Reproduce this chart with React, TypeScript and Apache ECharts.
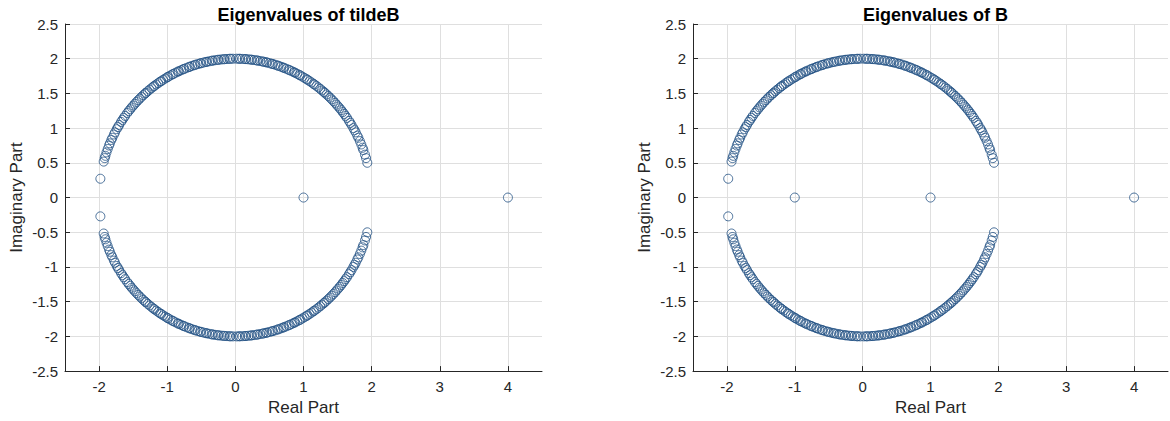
import React, { useEffect, useRef } from "react";
import * as echarts from "echarts";

// Eigenvalues (real part, imaginary part)
const upperArc: [number, number][] = [
  [1.936, 0.501], [1.918, 0.568], [1.902, 0.618], [1.879, 0.684], [1.867, 0.717], [1.848, 0.765],
  [1.827, 0.813], [1.805, 0.861], [1.79, 0.892], [1.766, 0.939], [1.749, 0.97], [1.732, 1.0],
  [1.705, 1.045], [1.687, 1.075], [1.668, 1.104], [1.638, 1.147], [1.618, 1.176], [1.597, 1.204],
  [1.576, 1.231], [1.554, 1.259], [1.532, 1.286], [1.509, 1.312], [1.486, 1.338], [1.463, 1.364],
  [1.439, 1.389], [1.414, 1.414], [1.389, 1.439], [1.364, 1.463], [1.338, 1.486], [1.312, 1.509],
  [1.299, 1.521], [1.272, 1.543], [1.245, 1.565], [1.218, 1.587], [1.19, 1.608], [1.161, 1.628],
  [1.147, 1.638], [1.118, 1.658], [1.089, 1.677], [1.06, 1.696], [1.045, 1.705], [1.015, 1.723],
  [0.985, 1.741], [0.954, 1.758], [0.939, 1.766], [0.908, 1.782], [0.877, 1.798], [0.861, 1.805],
  [0.829, 1.82], [0.797, 1.834], [0.781, 1.841], [0.749, 1.854], [0.717, 1.867], [0.7, 1.873],
  [0.668, 1.885], [0.635, 1.897], [0.618, 1.902], [0.585, 1.913], [0.551, 1.923], [0.534, 1.927],
  [0.501, 1.936], [0.467, 1.945], [0.45, 1.949], [0.416, 1.956], [0.399, 1.96], [0.365, 1.966],
  [0.33, 1.973], [0.313, 1.975], [0.278, 1.981], [0.244, 1.985], [0.226, 1.987], [0.192, 1.991],
  [0.157, 1.994], [0.14, 1.995], [0.105, 1.997], [0.07, 1.999], [0.052, 1.999], [0.017, 2.0],
  [-0.035, 2.0], [-0.07, 1.999], [-0.087, 1.998], [-0.122, 1.996], [-0.157, 1.994], [-0.174, 1.992],
  [-0.209, 1.989], [-0.244, 1.985], [-0.261, 1.983], [-0.296, 1.978], [-0.33, 1.973], [-0.347, 1.97],
  [-0.382, 1.963], [-0.416, 1.956], [-0.433, 1.953], [-0.467, 1.945], [-0.501, 1.936], [-0.518, 1.932],
  [-0.551, 1.923], [-0.585, 1.913], [-0.601, 1.907], [-0.635, 1.897], [-0.668, 1.885], [-0.684, 1.879],
  [-0.717, 1.867], [-0.749, 1.854], [-0.765, 1.848], [-0.797, 1.834], [-0.829, 1.82], [-0.845, 1.813],
  [-0.877, 1.798], [-0.908, 1.782], [-0.924, 1.774], [-0.954, 1.758], [-0.985, 1.741], [-1.0, 1.732],
  [-1.03, 1.714], [-1.06, 1.696], [-1.089, 1.677], [-1.104, 1.668], [-1.133, 1.648], [-1.161, 1.628],
  [-1.19, 1.608], [-1.204, 1.597], [-1.231, 1.576], [-1.259, 1.554], [-1.286, 1.532], [-1.312, 1.509],
  [-1.325, 1.498], [-1.351, 1.475], [-1.377, 1.451], [-1.402, 1.426], [-1.426, 1.402], [-1.451, 1.377],
  [-1.475, 1.351], [-1.498, 1.325], [-1.521, 1.299], [-1.543, 1.272], [-1.565, 1.245], [-1.587, 1.218],
  [-1.618, 1.176], [-1.638, 1.147], [-1.658, 1.118], [-1.677, 1.089], [-1.705, 1.045], [-1.723, 1.015],
  [-1.741, 0.985], [-1.766, 0.939], [-1.782, 0.908], [-1.805, 0.861], [-1.82, 0.829], [-1.841, 0.781],
  [-1.854, 0.749], [-1.873, 0.7], [-1.891, 0.651], [-1.907, 0.601], [-1.918, 0.568], [-1.932, 0.518],
  [-1.981, 0.271],
];

const lowerArc: [number, number][] = [
  [1.936, -0.501], [1.918, -0.568], [1.902, -0.618], [1.879, -0.684], [1.867, -0.717], [1.848, -0.765],
  [1.827, -0.813], [1.805, -0.861], [1.79, -0.892], [1.766, -0.939], [1.749, -0.97], [1.732, -1.0],
  [1.705, -1.045], [1.687, -1.075], [1.668, -1.104], [1.638, -1.147], [1.618, -1.176], [1.597, -1.204],
  [1.576, -1.231], [1.554, -1.259], [1.532, -1.286], [1.509, -1.312], [1.486, -1.338], [1.463, -1.364],
  [1.439, -1.389], [1.414, -1.414], [1.389, -1.439], [1.364, -1.463], [1.338, -1.486], [1.312, -1.509],
  [1.299, -1.521], [1.272, -1.543], [1.245, -1.565], [1.218, -1.587], [1.19, -1.608], [1.161, -1.628],
  [1.147, -1.638], [1.118, -1.658], [1.089, -1.677], [1.06, -1.696], [1.045, -1.705], [1.015, -1.723],
  [0.985, -1.741], [0.954, -1.758], [0.939, -1.766], [0.908, -1.782], [0.877, -1.798], [0.861, -1.805],
  [0.829, -1.82], [0.797, -1.834], [0.781, -1.841], [0.749, -1.854], [0.717, -1.867], [0.7, -1.873],
  [0.668, -1.885], [0.635, -1.897], [0.618, -1.902], [0.585, -1.913], [0.551, -1.923], [0.534, -1.927],
  [0.501, -1.936], [0.467, -1.945], [0.45, -1.949], [0.416, -1.956], [0.399, -1.96], [0.365, -1.966],
  [0.33, -1.973], [0.313, -1.975], [0.278, -1.981], [0.244, -1.985], [0.226, -1.987], [0.192, -1.991],
  [0.157, -1.994], [0.14, -1.995], [0.105, -1.997], [0.07, -1.999], [0.052, -1.999], [0.017, -2.0],
  [-0.035, -2.0], [-0.07, -1.999], [-0.087, -1.998], [-0.122, -1.996], [-0.157, -1.994], [-0.174, -1.992],
  [-0.209, -1.989], [-0.244, -1.985], [-0.261, -1.983], [-0.296, -1.978], [-0.33, -1.973], [-0.347, -1.97],
  [-0.382, -1.963], [-0.416, -1.956], [-0.433, -1.953], [-0.467, -1.945], [-0.501, -1.936], [-0.518, -1.932],
  [-0.551, -1.923], [-0.585, -1.913], [-0.601, -1.907], [-0.635, -1.897], [-0.668, -1.885], [-0.684, -1.879],
  [-0.717, -1.867], [-0.749, -1.854], [-0.765, -1.848], [-0.797, -1.834], [-0.829, -1.82], [-0.845, -1.813],
  [-0.877, -1.798], [-0.908, -1.782], [-0.924, -1.774], [-0.954, -1.758], [-0.985, -1.741], [-1.0, -1.732],
  [-1.03, -1.714], [-1.06, -1.696], [-1.089, -1.677], [-1.104, -1.668], [-1.133, -1.648], [-1.161, -1.628],
  [-1.19, -1.608], [-1.204, -1.597], [-1.231, -1.576], [-1.259, -1.554], [-1.286, -1.532], [-1.312, -1.509],
  [-1.325, -1.498], [-1.351, -1.475], [-1.377, -1.451], [-1.402, -1.426], [-1.426, -1.402], [-1.451, -1.377],
  [-1.475, -1.351], [-1.498, -1.325], [-1.521, -1.299], [-1.543, -1.272], [-1.565, -1.245], [-1.587, -1.218],
  [-1.618, -1.176], [-1.638, -1.147], [-1.658, -1.118], [-1.677, -1.089], [-1.705, -1.045], [-1.723, -1.015],
  [-1.741, -0.985], [-1.766, -0.939], [-1.782, -0.908], [-1.805, -0.861], [-1.82, -0.829], [-1.841, -0.781],
  [-1.854, -0.749], [-1.873, -0.7], [-1.891, -0.651], [-1.907, -0.601], [-1.918, -0.568], [-1.932, -0.518],
  [-1.981, -0.271],
];

const tildeBReal: [number, number][] = [[1, 0], [4, 0]];
const bReal: [number, number][] = [[-1, 0], [1, 0], [4, 0]];

const titles = ["Eigenvalues of tildeB", "Eigenvalues of B"];
const xTicks = [-2, -1, 0, 1, 2, 3, 4];
const xLabel = "Real Part";
const yLabel = "Imaginary Part";

const FONT = "'Liberation Sans', Arial, Helvetica, sans-serif";
const AXIS = "#262626";
const GRID = "#dfdfdf";
const MARK = "#1f4f82";

export default function App() {
  const ref = useRef<HTMLDivElement>(null);
  useEffect(() => {
    if (!ref.current) return;
    const chart = echarts.init(ref.current, undefined, { renderer: "svg" });
    const grids = [
      { left: 65, top: 24, width: 477, height: 350 },
      { left: 693, top: 24, width: 475, height: 350 },
    ];
    const xAxis = grids.map((_, i) => ({
      type: "value",
      gridIndex: i,
      min: -2.5,
      max: 4.5,
      name: xLabel,
      nameLocation: "middle",
      nameGap: 26,
      nameTextStyle: { color: AXIS, fontSize: 17, fontFamily: FONT },
      axisLine: { show: true, onZero: false, lineStyle: { color: AXIS, width: 1 } },
      axisTick: { show: true, inside: true, length: 5, customValues: xTicks, lineStyle: { color: AXIS } },
      axisLabel: { customValues: xTicks, color: AXIS, fontSize: 15, fontFamily: FONT, margin: 8 },
      splitLine: { show: true, lineStyle: { color: GRID, width: 1 } },
    }));
    const yAxis = grids.map((_, i) => ({
      type: "value",
      gridIndex: i,
      min: -2.5,
      max: 2.5,
      interval: 0.5,
      name: yLabel,
      nameLocation: "middle",
      nameGap: 40,
      nameTextStyle: { color: AXIS, fontSize: 17, fontFamily: FONT },
      axisLine: { show: true, onZero: false, lineStyle: { color: AXIS, width: 1 } },
      axisTick: { show: true, inside: true, length: 5, lineStyle: { color: AXIS } },
      axisLabel: { color: AXIS, fontSize: 15, fontFamily: FONT, margin: 7 },
      splitLine: { show: true, lineStyle: { color: GRID, width: 1 } },
    }));
    const extras = [tildeBReal, bReal];
    const series = grids.map((_, i) => ({
      type: "scatter",
      xAxisIndex: i,
      yAxisIndex: i,
      symbol: "circle",
      symbolSize: 9,
      data: [...upperArc, ...lowerArc, ...extras[i]],
      itemStyle: { color: "rgba(0,0,0,0)", borderColor: MARK, borderWidth: 1 },
    }));
    chart.setOption({
      animation: false,
      backgroundColor: "#ffffff",
      title: titles.map((t, i) => ({
        text: t,
        left: grids[i].left + grids[i].width / 2,
        textAlign: "center",
        top: 1,
        textStyle: { fontSize: 18, fontWeight: "bold", color: "#000", fontFamily: FONT },
      })),
      grid: grids,
      xAxis,
      yAxis,
      series,
    });
    return () => chart.dispose();
  }, []);
  return (
    <div
      ref={ref}
      style={{ position: "fixed", left: 0, top: 0, width: 1170, height: 421, background: "#fff" }}
    />
  );
}
